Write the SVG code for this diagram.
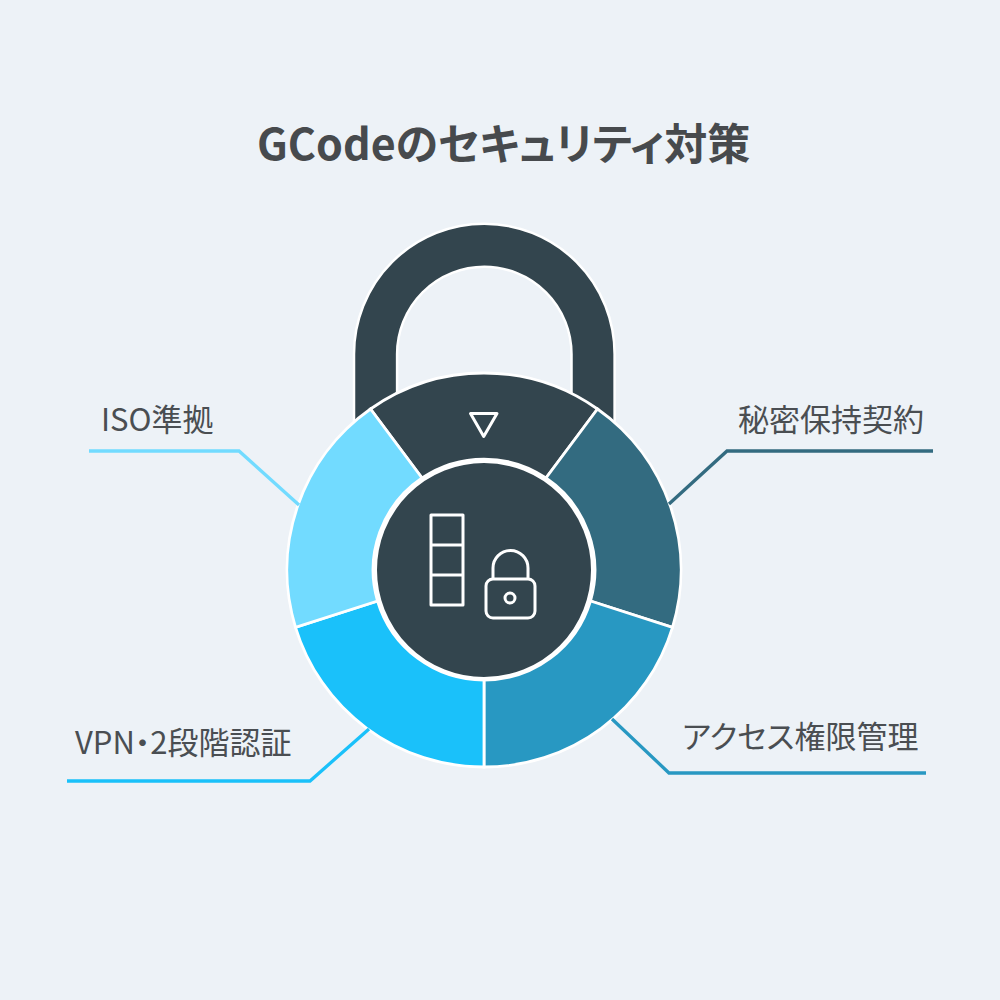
<svg xmlns="http://www.w3.org/2000/svg" width="1000" height="1000" viewBox="0 0 1000 1000">
<style>
text{font-feature-settings:"palt"}
.t{font-family:"Noto Sans CJK JP","Noto Sans",sans-serif;font-size:31px;fill:#4a4e52}
.s{stroke:#fff;stroke-width:2.800;stroke-linejoin:miter}
.i{fill:none;stroke:#fff;stroke-width:3;stroke-linejoin:round}
.c{fill:none;stroke-width:3.300}
</style>
<rect width="1000" height="1000" fill="#edf2f7"/>
<text x="257" y="160" font-family="'Noto Sans CJK JP','Noto Sans',sans-serif" font-size="43" font-weight="700" fill="#474a4d">GCodeのセキュリティ対策</text>
<g id="shackle"><path stroke="#fff" stroke-width="2.500" fill="#33454e" d="M354 425V354A130.300 130.300 0 0 1 614.600 354V425H571.500V354A87.200 87.200 0 0 0 397.100 354V425Z"/></g>
<g id="seg-top"><path class="s" fill="#33454e" d="M370.500 409A197 197 0 0 1 597.500 409L546 478A111 111 0 0 0 422 478Z"/><path class="i" d="M470.500 413.500H497L483.700 436.500Z"/></g>
<g id="seg-right"><path class="s" fill="#336b80" d="M597.500 409A197 197 0 0 1 672.500 627.300L590.500 601A111 111 0 0 0 546 478Z"/></g>
<g id="seg-bottom-right"><path class="s" fill="#2898c2" d="M672.500 627.300A197 197 0 0 1 484 767V680A111 111 0 0 0 590.500 601Z"/></g>
<g id="seg-bottom-left"><path class="s" fill="#1ac1fa" d="M484 767A197 197 0 0 1 295.500 627.300L377.500 601A111 111 0 0 0 484 680Z"/></g>
<g id="seg-left"><path class="s" fill="#72dbff" d="M295.500 627.300A197 197 0 0 1 370.500 409L422 478A111 111 0 0 0 377.500 601Z"/></g>
<g id="connectors">
<path class="c" stroke="#72dbff" d="M89 451H239L299 505"/>
<path class="c" stroke="#336b80" d="M933 451H727L669 504"/>
<path class="c" stroke="#1ac1fa" d="M67 781H310L369 729"/>
<path class="c" stroke="#2898c2" d="M926 773H669L612 719"/>
</g>
<g id="hub"><circle cx="484" cy="570" r="108.500" fill="#33454e" stroke="#fff" stroke-width="3"/>
<g class="i"><rect x="431" y="515" width="32" height="90"/><path d="M431 545H463M431 575H463"/>
<path d="M493 579V568A17.500 17.500 0 0 1 528 568V579"/><rect x="486" y="579" width="49" height="39" rx="7"/><circle cx="510" cy="598" r="5"/></g></g>
<g id="label-iso"><text class="t" x="101" y="431">ISO準拠</text></g>
<g id="label-nda"><text class="t" x="738" y="431">秘密保持契約</text></g>
<g id="label-vpn"><text class="t" x="75" y="754">VPN・2段階認証</text></g>
<g id="label-access"><text class="t" x="682" y="748">アクセス権限管理</text></g>
</svg>
